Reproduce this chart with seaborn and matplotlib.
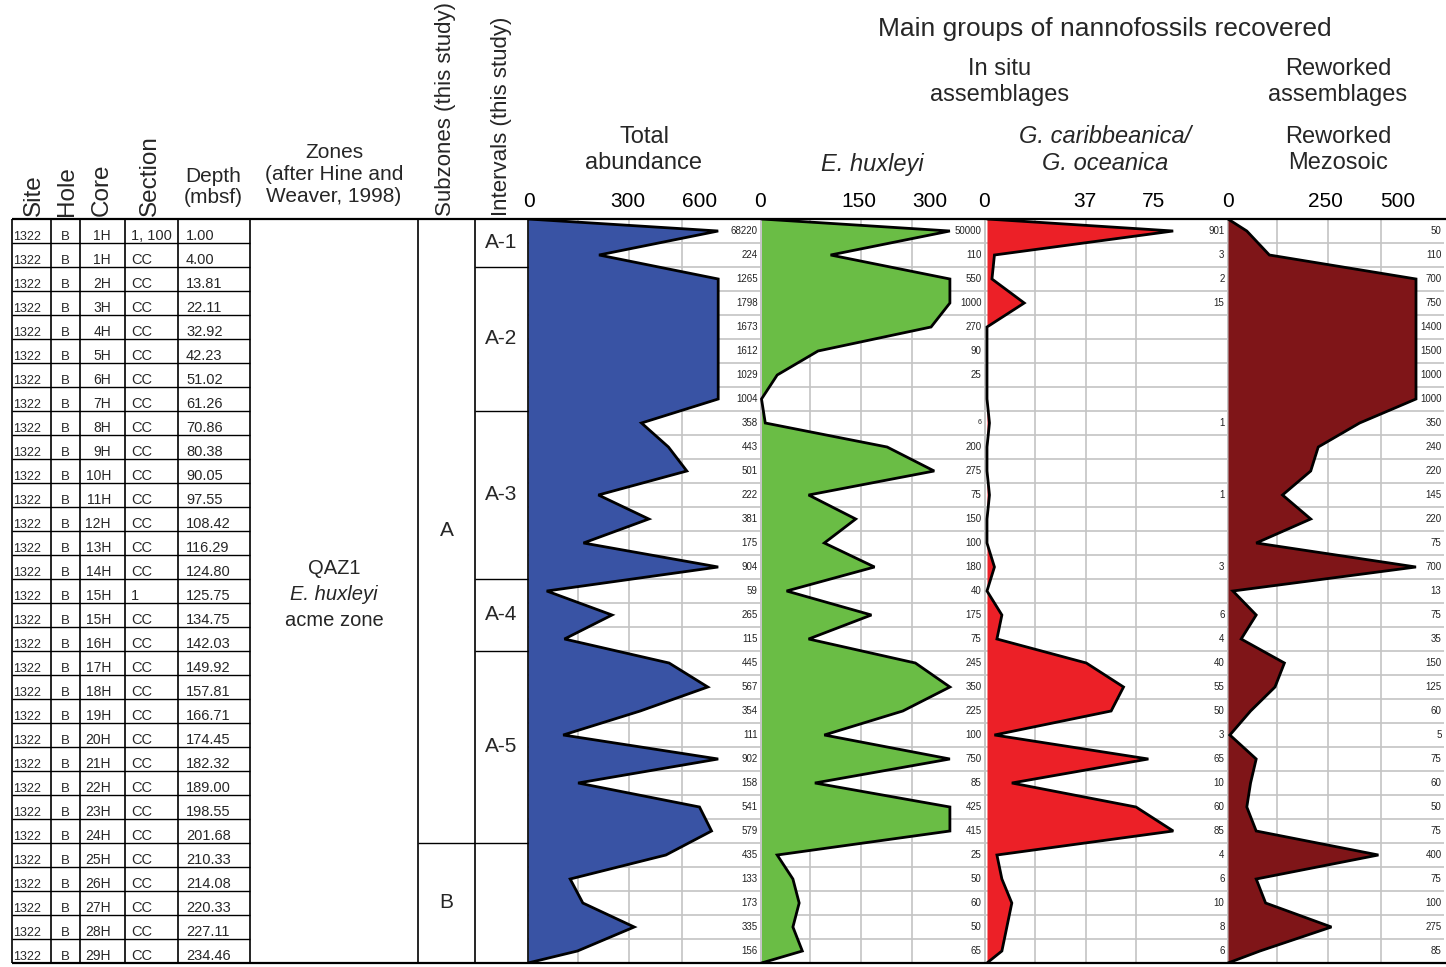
import numpy as np
import matplotlib
matplotlib.use("Agg")
import matplotlib.pyplot as plt
import seaborn as sns

# ---- data (ODP Site 1322, Hole B) ----
site = "1322"
hole = "B"
cores = ["1H", "1H", "2H", "3H", "4H", "5H", "6H", "7H", "8H", "9H", "10H",
         "11H", "12H", "13H", "14H", "15H", "15H", "16H", "17H", "18H", "19H",
         "20H", "21H", "22H", "23H", "24H", "25H", "26H", "27H", "28H", "29H"]
sections = ["1, 100"] + ["CC"] * 14 + ["1"] + ["CC"] * 15
depths = ["1.00", "4.00", "13.81", "22.11", "32.92", "42.23", "51.02", "61.26",
          "70.86", "80.38", "90.05", "97.55", "108.42", "116.29", "124.80",
          "125.75", "134.75", "142.03", "149.92", "157.81", "166.71", "174.45",
          "182.32", "189.00", "198.55", "201.68", "210.33", "214.08", "220.33",
          "227.11", "234.46"]

total_abundance = [68220, 224, 1265, 1798, 1673, 1612, 1029, 1004, 358, 443, 501,
                   222, 381, 175, 904, 59, 265, 115, 445, 567, 354, 111, 902, 158,
                   541, 579, 435, 133, 173, 335, 156]
e_huxleyi = [50000, 110, 550, 1000, 270, 90, 25, None, 6, 200, 275, 75, 150, 100,
             180, 40, 175, 75, 245, 350, 225, 100, 750, 85, 425, 415, 25, 50, 60,
             50, 65]
g_caribbeanica = [901, 3, 2, 15, None, None, None, None, 1, None, None, 1, None,
                  None, 3, None, 6, 4, 40, 55, 50, 3, 65, 10, 60, 85, 4, 6, 10, 8, 6]
reworked_mezosoic = [50, 110, 700, 750, 1400, 1500, 1000, 1000, 350, 240, 220, 145,
                     220, 75, 700, 13, 75, 35, 150, 125, 60, 5, 75, 60, 50, 75, 400,
                     75, 100, 275, 85]

subzones = [("A", 0, 26), ("B", 26, 31)]
intervals = [("A-1", 0, 2), ("A-2", 2, 8), ("A-3", 8, 15), ("A-4", 15, 18),
             ("A-5", 18, 26), ("", 26, 31)]

# ---- layout (pixels) ----
W, H = 1446, 967
TOP, BOT = 219, 963
N = len(cores)
ROW_H = (BOT - TOP) / N
GRID = "#c4c4c4"

sns.set_theme(style="white")
plt.rcParams["font.family"] = ["Liberation Sans", "DejaVu Sans"]

fig = plt.figure(figsize=(W / 100, H / 100), dpi=100)

# values, cap, colour, left px, right px, zero px, px per unit, tick px, tick labels, grid px
panels = [
    (total_abundance, 600, "#3953a4", 528, 760, 528, 0.317,
     [529, 628, 700], ["0", "300", "600"], [578, 629, 682]),
    (e_huxleyi, 300, "#6abd45", 760, 984, 761.5, 0.628,
     [760, 859, 930], ["0", "150", "300"], [810, 861, 912]),
    (g_caribbeanica, 75, "#ec2027", 984, 1227, 986, 2.493,
     [983, 1084, 1153], ["0", "37", "75"], [1034, 1085, 1136]),
    (reworked_mezosoic, 500, "#7f1518", 1227, 1444, 1228, 0.376,
     [1228, 1325, 1398], ["0", "250", "500"], [1277, 1328, 1381]),
]

rows = np.arange(N)
for k, (values, cap, color, L, R, zero, ppu, tick_px, tick_lab, grid_px) in enumerate(panels):
    ax = fig.add_axes([L / W, 1 - BOT / H, (R - L) / W, (BOT - TOP) / H])
    ax.patch.set_alpha(0)
    x0, x1 = (L - zero) / ppu, (R - zero) / ppu
    ax.set_xlim(x0, x1)
    ax.set_ylim(N - 0.5, -0.5)

    vals = np.array([0 if v is None else v for v in values], dtype=float)
    shown = np.minimum(vals, cap)
    xs = np.r_[0, shown, 0]
    ys = np.r_[-0.5, rows, N - 0.5]

    ax.hlines(rows[:-1] + 0.5, x0, x1, color=GRID, lw=1.2, zorder=1)
    ax.vlines([(g - zero) / ppu for g in grid_px], -0.5, N - 0.5, color=GRID, lw=1.2, zorder=1)
    if k > 0:
        ax.vlines([x0 + 0.5 / ppu], -0.5, N - 0.5, color=GRID, lw=1.4, zorder=1)

    ax.fill_betweenx(ys, 0, xs, color=color, lw=0, zorder=2)
    sns.lineplot(x=xs, y=ys, orient="y", sort=False, estimator=None, color="black",
                 lw=2.0, ax=ax, zorder=3, solid_joinstyle="miter")

    for i, v in enumerate(values):
        if v is None:
            continue
        fs = 5 if (k == 1 and v < 10) else 7
        ax.text(1 - 2.5 / (R - L), i, str(v), transform=ax.get_yaxis_transform(),
                ha="right", va="center", fontsize=fs, color="#222222", zorder=4)

    ax.xaxis.tick_top()
    ax.set_xticks([(t - zero) / ppu for t in tick_px], tick_lab)
    ax.tick_params(axis="x", length=0, pad=6, labelsize=15, colors="black")
    ax.set_yticks([])
    ax.set_xlabel("")
    ax.set_ylabel("")
    for s in ax.spines.values():
        s.set_visible(False)

# ---- table and headers on a pixel canvas ----
cv = fig.add_axes([0, 0, 1, 1], zorder=10)
cv.set_xlim(0, W)
cv.set_ylim(H, 0)
cv.axis("off")
cv.patch.set_alpha(0)

cv.hlines([TOP, BOT], 12, W, color="black", lw=1.6)
cv.vlines([12, 51, 80, 125, 178, 250, 418, 475, 528], TOP, BOT, color="black", lw=1.2)
cv.hlines([TOP + ROW_H * j for j in range(1, N)], 12, 250, color="black", lw=1.0)

for name, a, b in subzones:
    if a > 0:
        cv.hlines(TOP + a * ROW_H, 418, 475, color="black", lw=1.0)
    cv.text(446.5, TOP + (a + b) / 2 * ROW_H, name, ha="center", va="center", fontsize=15)
for name, a, b in intervals:
    if a > 0:
        cv.hlines(TOP + a * ROW_H, 475, 528, color="black", lw=1.0)
    cv.text(501.5, TOP + (a + b) / 2 * ROW_H, name, ha="center", va="center", fontsize=15)

for i in range(N):
    yb = TOP + (i + 1) * ROW_H - 2.5
    cv.text(13, yb, site, ha="left", va="baseline", fontsize=9)
    cv.text(65.5, yb, hole, ha="center", va="baseline", fontsize=9.5)
    cv.text(111, yb, cores[i], ha="right", va="baseline", fontsize=10)
    cv.text(131, yb, sections[i], ha="left", va="baseline", fontsize=10.5)
    cv.text(186, yb, depths[i], ha="left", va="baseline", fontsize=10.5)

cv.text(334, 568, "QAZ1", ha="center", va="center", fontsize=14.5)
cv.text(334, 594, "E. huxleyi", ha="center", va="center", fontsize=14.5, style="italic")
cv.text(334, 620, "acme zone", ha="center", va="center", fontsize=14.5)

for x, lab, fs in [(34, "Site", 17.5), (67, "Hole", 17.5), (102, "Core", 17.5),
                   (150, "Section", 17.5), (446, "Subzones (this study)", 16),
                   (501, "Intervals (this study)", 16)]:
    cv.text(x, 216, lab, rotation=90, ha="center", va="bottom", fontsize=fs)

cv.text(213, 187, "Depth\n(mbsf)", ha="center", va="center", fontsize=15, linespacing=1.15)
cv.text(334, 174, "Zones\n(after Hine and\nWeaver, 1998)", ha="center", va="center",
        fontsize=15, linespacing=1.2)

cv.text(1105, 29, "Main groups of nannofossils recovered", ha="center", va="center", fontsize=19)
cv.text(1000, 82, "In situ\nassemblages", ha="center", va="center", fontsize=17, linespacing=1.2)
cv.text(1338, 82, "Reworked\nassemblages", ha="center", va="center", fontsize=17, linespacing=1.2)
cv.text(644, 150, "Total\nabundance", ha="center", va="center", fontsize=17, linespacing=1.2)
cv.text(872, 164, "E. huxleyi", ha="center", va="center", fontsize=17, style="italic")
cv.text(1105, 150, "G. caribbeanica/\nG. oceanica", ha="center", va="center", fontsize=17,
        style="italic", linespacing=1.2)
cv.text(1338, 150, "Reworked\nMezosoic", ha="center", va="center", fontsize=17, linespacing=1.2)

fig.savefig("out.png", dpi=100, facecolor="white")
